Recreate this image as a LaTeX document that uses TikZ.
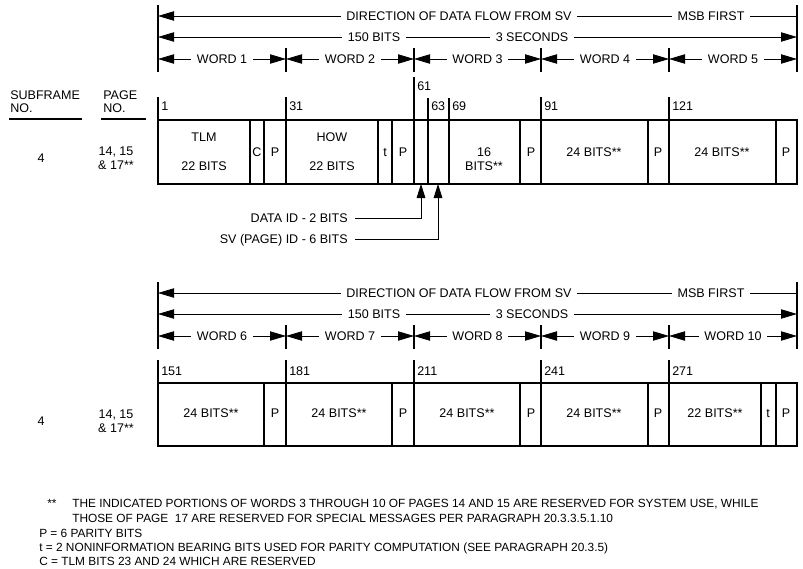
\documentclass[tikz,border=0pt]{standalone}
\usepackage{fontspec}
\setmainfont{Liberation Sans}
\usetikzlibrary{arrows.meta}
\tikzset{
  txt/.style={font=\fontsize{9.4}{11}\selectfont,inner sep=0pt,text height=6.7pt,text depth=0pt},
  gap/.style={txt,fill=white,inner xsep=4.2pt,inner ysep=1pt},
  note/.style={font=\fontsize{8.9}{10}\selectfont,inner sep=0pt,anchor=west,text height=6.3pt,text depth=0pt},
  thin/.style={line width=0.6pt},
  frame/.style={line width=0.9pt}
}
\begin{document}
\begin{tikzpicture}[x=0.75pt,y=-0.75pt,>={Triangle[length=12pt,width=7pt]}]
  \useasboundingbox (0,0) rectangle (803,568);
  \foreach \oy/\wn in {0/0,277/5}{
    \draw[frame] (158,5+\oy) -- (158,72+\oy);
    \draw[frame] (797,5+\oy) -- (797,72+\oy);
    \foreach \xt in {286,414,541,669}
      \draw[frame] (\xt,48+\oy) -- (\xt,72+\oy);
    \draw[thin,<-] (158,16+\oy) -- (797,16+\oy);
    \node[gap] (dir\oy) at (459,16+\oy) {DIRECTION OF DATA FLOW FROM SV};
    \node[gap] (msb\oy) at (711,16+\oy) {MSB FIRST};
    \draw[thin,<->] (158,37+\oy) -- (797,37+\oy);
    \node[gap] (bits\oy) at (374,37+\oy) {150 BITS};
    \node[gap] (secs\oy) at (532,37+\oy) {3 SECONDS};
    \foreach \xa/\xb [count=\i] in {158/286,286/414,414/541,541/669,669/797}{
      \pgfmathtruncatemacro\w{\i+\wn}
      \draw[thin,<->] (\xa,59+\oy) -- (\xb,59+\oy);
      \node[gap] (word\w) at ({(\xa+\xb)/2},59+\oy) {WORD \w};
    }
  }

  \node[txt,anchor=west] (subf) at (10,95) {SUBFRAME};
  \node[txt,anchor=west] (subfno) at (10,108) {NO.};
  \draw[frame] (9,119) -- (82,119);
  \node[txt,anchor=west] (page) at (103,95) {PAGE};
  \node[txt,anchor=west] (pageno) at (103,108) {NO.};
  \draw[frame] (101,119) -- (146,119);

  \foreach \xt/\yt in {158/97,286/97,414/77,428/98,449/98,541/97,669/97}
    \draw[frame] (\xt,\yt) -- (\xt,120);
  \foreach \xt/\yt/\b in {158/106/1,286/106/31,414/86/61,428/106/63,449/106/69,541/106/91,669/106/121}
    \node[txt,anchor=west] (b\b) at (\xt+3,\yt) {\b};
  \draw[frame] (158,120) rectangle (797,184);
  \foreach \xd in {250,264,286,378,392,414,428,449,520,541,648,669,776}
    \draw[frame] (\xd,120) -- (\xd,184);
  \node[txt] (sf1) at (41,158) {4};
  \node[txt] (pg1) at (116,151) {14, 15};
  \node[txt] (pg1b) at (116,165) {\& 17**};
  \node[txt] (tlm) at (204,137) {TLM};
  \node[txt] (tlmb) at (204,166) {22 BITS};
  \node[txt] (c) at (257,152) {C};
  \node[txt] (p1) at (275,152) {P};
  \node[txt] (how) at (332,137) {HOW};
  \node[txt] (howb) at (332,166) {22 BITS};
  \node[txt] (t1) at (385,152) {t};
  \node[txt] (p2) at (403,152) {P};
  \node[txt] (w3a) at (484,152) {16};
  \node[txt] (w3b) at (484,166) {BITS**};
  \node[txt] (p3) at (531,152) {P};
  \node[txt] (w4) at (594,152) {24 BITS**};
  \node[txt] (p4) at (658,152) {P};
  \node[txt] (w5) at (722,152) {24 BITS**};
  \node[txt] (p5) at (786,152) {P};

  \coordinate (did) at (421,184);
  \coordinate (svid) at (438,184);
  \node[txt,anchor=east] (didl) at (348,218) {DATA ID - 2 BITS};
  \node[txt,anchor=east] (svidl) at (348,239) {SV (PAGE) ID - 6 BITS};
  \draw[thin,->,>={Triangle[length=10.5pt,width=6.5pt]}] (didl.east) ++(7,0) -| (did);
  \draw[thin,->,>={Triangle[length=10.5pt,width=6.5pt]}] (svidl.east) ++(7,0) -| (svid);

  \foreach \xt in {158,286,414,541,669}
    \draw[frame] (\xt,360) -- (\xt,383);
  \foreach \xt/\b in {158/151,286/181,414/211,541/241,669/271}
    \node[txt,anchor=west] (b\b) at (\xt+3,371) {\b};
  \draw[frame] (158,383) rectangle (797,446);
  \foreach \xd in {264,286,392,414,520,541,648,669,761,776}
    \draw[frame] (\xd,383) -- (\xd,446);
  \node[txt] (sf2) at (41,421) {4};
  \node[txt] (pg2) at (116,414) {14, 15};
  \node[txt] (pg2b) at (116,428) {\& 17**};
  \node[txt] (w6) at (211,413) {24 BITS**};
  \node[txt] (p6) at (275,413) {P};
  \node[txt] (w7) at (339,413) {24 BITS**};
  \node[txt] (p7) at (403,413) {P};
  \node[txt] (w8) at (467,413) {24 BITS**};
  \node[txt] (p8) at (531,413) {P};
  \node[txt] (w9) at (594,413) {24 BITS**};
  \node[txt] (p9) at (658,413) {P};
  \node[txt] (w10) at (715,413) {22 BITS**};
  \node[txt] (t10) at (768,413) {t};
  \node[txt] (p10) at (786,413) {P};

  \node[note] (star) at (47,503) {**};
  \node[note] (n1) at (72,503) {THE INDICATED PORTIONS OF WORDS 3 THROUGH 10 OF PAGES 14 AND 15 ARE RESERVED FOR SYSTEM USE, WHILE};
  \node[note] (n2) at (72,518) {THOSE OF PAGE\ \ 17 ARE RESERVED FOR SPECIAL MESSAGES PER PARAGRAPH 20.3.3.5.1.10};
  \node[note] (n3) at (39,533) {P = 6 PARITY BITS};
  \node[note] (n4) at (39,547) {t = 2 NONINFORMATION BEARING BITS USED FOR PARITY COMPUTATION (SEE PARAGRAPH 20.3.5)};
  \node[note] (n5) at (39,561) {C = TLM BITS 23 AND 24 WHICH ARE RESERVED};
\end{tikzpicture}
\end{document}
